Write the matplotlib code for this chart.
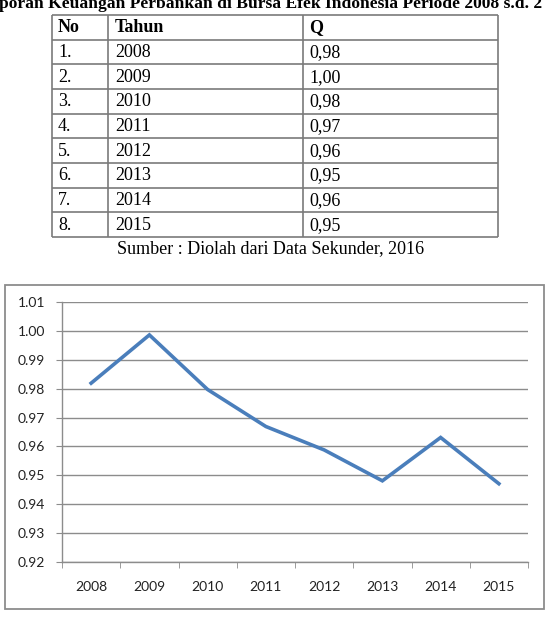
import matplotlib
matplotlib.use("Agg")
import matplotlib.pyplot as plt
from matplotlib.patches import Rectangle
from matplotlib.ticker import FixedLocator, FormatStrFormatter

# ---- data ----
years = ["2008", "2009", "2010", "2011", "2012", "2013", "2014", "2015"]
q_values = [0.9819, 0.9986, 0.9797, 0.9669, 0.9588, 0.9481, 0.9631, 0.9471]
row_numbers = ["1.", "2.", "3.", "4.", "5.", "6.", "7.", "8."]
table_q = ["0,98", "1,00", "0,98", "0,97", "0,96", "0,95", "0,96", "0,95"]
table_header = ["No", "Tahun", "Q"]
y_ticks = [0.92, 0.93, 0.94, 0.95, 0.96, 0.97, 0.98, 0.99, 1.00, 1.01]
title_text = "poran Keuangan Perbankan di Bursa Efek Indonesia Periode 2008 s.d. 2"
source_text = "Sumber : Diolah dari Data Sekunder, 2016"

W, H = 550, 618
fig = plt.figure(figsize=(W / 100, H / 100), dpi=100)

# page-level axes in pixel coordinates
bg = fig.add_axes([0, 0, 1, 1])
bg.set_xlim(0, W)
bg.set_ylim(H, 0)
bg.axis("off")

serif = ["Liberation Serif", "DejaVu Serif"]

# title (cropped at top, as in the source page)
bg.text(-1, 7.5, title_text, fontsize=12.6, fontweight="bold", family=serif,
        ha="left", va="baseline", color="black")

# table
col_x = [52, 108, 303, 498]
row_h = (237 - 15) / 9
top = 15
grid_c = "#7a7a7a"
for i in range(10):
    y = top + i * row_h
    bg.plot([col_x[0], col_x[-1]], [y, y], color=grid_c, lw=1.2, solid_capstyle="butt")
for x in col_x:
    bg.plot([x, x], [top, top + 9 * row_h], color=grid_c, lw=1.2, solid_capstyle="butt")

text_x = [col_x[0] + 6, col_x[1] + 7, col_x[2] + 6]
for j, hdr in enumerate(table_header):
    bg.text(text_x[j], top + row_h / 2 + 0.5, hdr, fontsize=13, fontweight="bold",
            family=serif, ha="left", va="center")
for i in range(len(years)):
    yc = top + (i + 1.5) * row_h + 0.5
    for j, val in enumerate([row_numbers[i], years[i], table_q[i]]):
        bg.text(text_x[j], yc, val, fontsize=13, family=serif, ha="left", va="center")

bg.text(271, 249, source_text, fontsize=13, family=serif, ha="center", va="center")

# chart border box
bg.add_patch(Rectangle((5, 285), 539, 324, fill=False, edgecolor="#8c8c8c", lw=1.3))

# chart axes
left, right, ytop, ybot = 62, 528, 302, 562
ax = fig.add_axes([left / W, (H - ybot) / H, (right - left) / W, (ybot - ytop) / H])
ax.patch.set_alpha(0)
xs = list(range(len(years)))
ax.plot(xs, q_values, color="#4a7ebb", lw=2.6, solid_joinstyle="miter")
ax.set_xlim(-0.5, len(years) - 0.5)
ax.set_ylim(y_ticks[0], y_ticks[-1])
ax.yaxis.set_major_locator(FixedLocator(y_ticks))
ax.yaxis.set_major_formatter(FormatStrFormatter("%.2f"))
ax.set_xticks(xs)
ax.set_xticklabels(years)
ax.xaxis.set_minor_locator(FixedLocator([k - 0.5 for k in range(len(years) + 1)]))
ax.grid(axis="y", color="#8c8c8c", lw=1)
ax.set_axisbelow(True)
for s in ["top", "right"]:
    ax.spines[s].set_visible(False)
for s in ["left", "bottom"]:
    ax.spines[s].set_color("#8c8c8c")
    ax.spines[s].set_linewidth(1)
sans = ["Lato", "DejaVu Sans"]
ax.tick_params(axis="x", which="major", length=0, pad=14, labelsize=10, labelcolor="#222222")
ax.tick_params(axis="x", which="minor", length=4, color="#8c8c8c", direction="out")
ax.tick_params(axis="y", length=4, color="#8c8c8c", pad=8, labelsize=10, labelcolor="#222222")
for lab in ax.get_xticklabels() + ax.get_yticklabels():
    lab.set_family(sans)

fig.savefig("out.png", dpi=100)
